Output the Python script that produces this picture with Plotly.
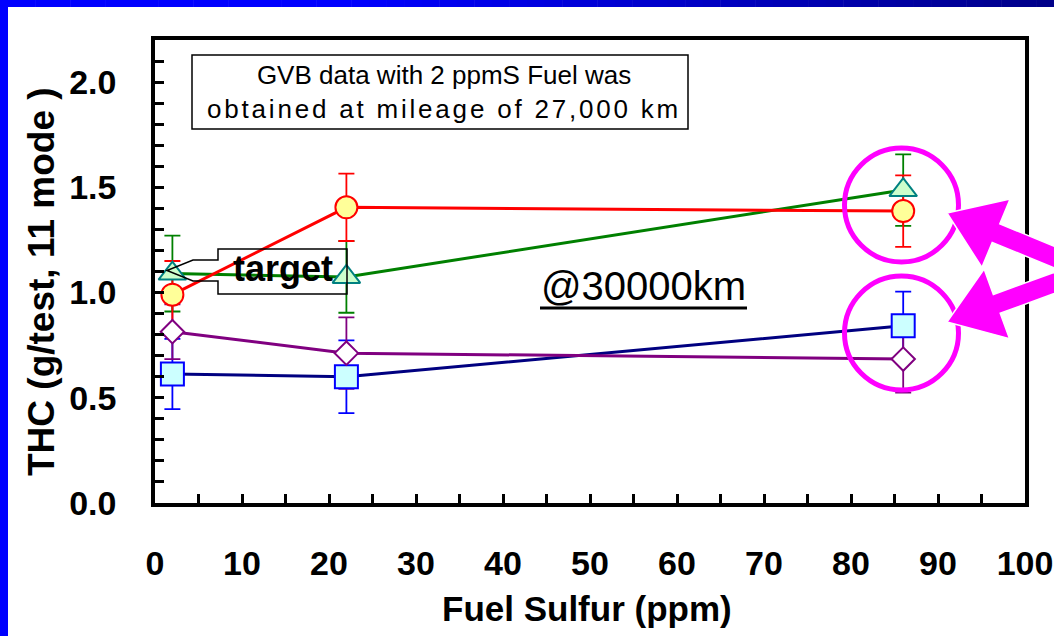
import math
import plotly.graph_objects as go

# ---------------- data ----------------
sulfur = [2, 22, 86]

red_vals = [0.99, 1.405, 1.387]
red_err = [0.16, 0.16, 0.17]
green_vals = [1.09, 1.074, 1.487]
green_err = [0.18, 0.17, 0.17]
purple_vals = [0.814, 0.712, 0.684]
purple_err = [0.13, 0.17, 0.16]
blue_vals = [0.613, 0.600, 0.842]
blue_err = [0.167, 0.173, 0.162]

x_ticks = [0, 10, 20, 30, 40, 50, 60, 70, 80, 90, 100]
y_ticks = [0.0, 0.5, 1.0, 1.5, 2.0]
y_tick_text = ["0.0", "0.5", "1.0", "1.5", "2.0"]

# ---------------- layout geometry (pixels) ----------------
W, H = 1054, 636
PL, PR, PT, PB = 155, 1025, 40, 503
FONT = "Liberation Sans, Arial, Helvetica, sans-serif"


def fx(px):
    return (px - PL) / (PR - PL)


def fy(py):
    return (PB - py) / (PB - PT)


series = [
    dict(name="blue", y=blue_vals, e=blue_err, line="#000080", err="#0000FF",
         symbol="square", size=23, fill="#CCFFFF", edge="#0000FF"),
    dict(name="purple", y=purple_vals, e=purple_err, line="#800080", err="#800080",
         symbol="diamond", size=18, fill="#FFFFFF", edge="#800080"),
    dict(name="green", y=green_vals, e=green_err, line="#008000", err="#008000",
         symbol="triangle-up", size=24, fill="#CCFFCC", edge="#008080"),
    dict(name="red", y=red_vals, e=red_err, line="#FF0000", err="#FF0000",
         symbol="circle", size=22, fill="#FFFF99", edge="#FF0000"),
]

fig = go.Figure()

# error bars (drawn first, under everything)
for s in series:
    fig.add_trace(go.Scatter(
        x=sulfur, y=s["y"], mode="markers",
        marker=dict(size=1, opacity=0),
        error_y=dict(type="data", array=s["e"], visible=True,
                     color=s["err"], thickness=1.8, width=8),
        showlegend=False, hoverinfo="skip"))

# connecting lines
for s in series:
    fig.add_trace(go.Scatter(
        x=sulfur, y=s["y"], mode="lines",
        line=dict(color=s["line"], width=3),
        showlegend=False, hoverinfo="skip"))

# markers
for s in series:
    fig.add_trace(go.Scatter(
        x=sulfur, y=s["y"], mode="markers", name=s["name"],
        marker=dict(symbol=s["symbol"], size=s["size"], color=s["fill"],
                    line=dict(color=s["edge"], width=2)),
        showlegend=False))

shapes = []

# top gradient band and left band (slide frame)
N = 60
for i in range(N):
    x0 = W * i / N
    x1 = W * (i + 1) / N
    xm = (x0 + x1) / 2
    t = max(0.0, (xm - 350) / (W - 350))
    b = int(round(255 - t * (255 - 136)))
    shapes.append(dict(type="rect", xref="paper", yref="paper",
                       x0=fx(x0), x1=fx(x1 + 0.5), y0=fy(7), y1=fy(0),
                       fillcolor=f"rgb(0,0,{b})", line=dict(width=0), layer="above"))
shapes.append(dict(type="rect", xref="paper", yref="paper",
                   x0=fx(0), x1=fx(8), y0=fy(H), y1=fy(0),
                   fillcolor="#0000FF", line=dict(width=0), layer="above"))

# info box
shapes.append(dict(type="rect", xref="paper", yref="paper",
                   x0=fx(192), x1=fx(688), y0=fy(129), y1=fy(55),
                   line=dict(color="black", width=1.5), fillcolor="rgba(0,0,0,0)"))

# target callout outline
callout = [(347, 249), (218, 249), (218, 260), (193, 260), (167, 270.5),
           (193, 281), (218, 281), (218, 294), (347, 294)]
path = "M " + " L ".join(f"{fx(x):.5f},{fy(y):.5f}" for x, y in callout) + " Z"
shapes.append(dict(type="path", xref="paper", yref="paper", path=path,
                   line=dict(color="black", width=1.5), fillcolor="rgba(0,0,0,0)"))

# underline for @30000km
shapes.append(dict(type="line", xref="paper", yref="paper",
                   x0=fx(540), x1=fx(747), y0=fy(308), y1=fy(308),
                   line=dict(color="black", width=3)))

# magenta highlight circles
for cy in (205, 333):
    cx, r = 901.5, 57
    shapes.append(dict(type="circle", xref="paper", yref="paper",
                       x0=fx(cx - r), x1=fx(cx + r), y0=fy(cy + r), y1=fy(cy - r),
                       line=dict(color="#FF00FF", width=5), layer="above"))


def arrow(tip, direction, head_len, head_half, shaft_half, length):
    n = math.hypot(*direction)
    d = (direction[0] / n, direction[1] / n)
    nn = (-d[1], d[0])
    b = (tip[0] + head_len * d[0], tip[1] + head_len * d[1])
    e = (tip[0] + length * d[0], tip[1] + length * d[1])
    pts = [tip,
           (b[0] + head_half * nn[0], b[1] + head_half * nn[1]),
           (b[0] + shaft_half * nn[0], b[1] + shaft_half * nn[1]),
           (e[0] + shaft_half * nn[0], e[1] + shaft_half * nn[1]),
           (e[0] - shaft_half * nn[0], e[1] - shaft_half * nn[1]),
           (b[0] - shaft_half * nn[0], b[1] - shaft_half * nn[1]),
           (b[0] - head_half * nn[0], b[1] - head_half * nn[1])]
    return "M " + " L ".join(f"{fx(x):.5f},{fy(y):.5f}" for x, y in pts) + " Z"


for tip, dr in (((947, 213), (107, 44)), ((947, 322), (107, -39))):
    shapes.append(dict(type="path", xref="paper", yref="paper",
                       path=arrow(tip, dr, 53, 37, 10, 260),
                       fillcolor="#FF00FF", line=dict(color="white", width=1.5),
                       layer="above"))

annotations = [
    dict(text="GVB data with 2 ppmS Fuel was<br>"
              "<span style=\"letter-spacing:2.8px\">obtained at mileage of 27,000 km</span>",
         x=fx(444), y=fy(92), xref="paper", yref="paper", showarrow=False,
         xanchor="center", yanchor="middle", align="center",
         font=dict(family=FONT, size=26, color="black")),
    dict(text="target", x=fx(283), y=fy(268), xref="paper", yref="paper",
         showarrow=False, xanchor="center", yanchor="middle",
         font=dict(family=FONT, size=36, color="black", weight="bold")),
    dict(text="@30000km", x=fx(643), y=fy(286), xref="paper", yref="paper",
         showarrow=False, xanchor="center", yanchor="middle",
         font=dict(family=FONT, size=40, color="black")),
    dict(text="Fuel Sulfur (ppm)", x=fx(587), y=fy(608), xref="paper", yref="paper",
         showarrow=False, xanchor="center", yanchor="middle",
         font=dict(family=FONT, size=35, color="black", weight="bold")),
    dict(text="THC (g/test, 11 mode )", x=fx(41), y=fy(282), xref="paper", yref="paper",
         showarrow=False, xanchor="center", yanchor="middle", textangle=-90,
         font=dict(family=FONT, size=37, color="black", weight="bold")),
]

fig.update_layout(
    width=W, height=H, autosize=False,
    margin=dict(l=PL, r=W - PR, t=PT, b=H - PB, pad=0, autoexpand=False),
    paper_bgcolor="white", plot_bgcolor="white",
    showlegend=False,
    shapes=shapes, annotations=annotations,
    xaxis=dict(range=[0, 100], tickvals=x_ticks, ticktext=[str(v) for v in x_ticks],
               automargin=False,
               ticks="inside", ticklen=9, tickwidth=3, tickcolor="black",
               minor=dict(dtick=5, ticks="inside", ticklen=9, tickwidth=3, tickcolor="black"),
               showline=True, linewidth=3.5, linecolor="black", mirror=True,
               showgrid=False, zeroline=False, ticklabelstandoff=27,
               tickfont=dict(family=FONT, size=34, color="black", weight="bold")),
    yaxis=dict(range=[0, 2.2], tickvals=y_ticks, ticktext=y_tick_text,
               automargin=False,
               ticks="inside", ticklen=9, tickwidth=3, tickcolor="black",
               minor=dict(dtick=0.1, ticks="inside", ticklen=9, tickwidth=3, tickcolor="black"),
               showline=True, linewidth=3.5, linecolor="black", mirror=True,
               showgrid=False, zeroline=False, ticklabelstandoff=28,
               tickfont=dict(family=FONT, size=34, color="black", weight="bold")),
)

fig.write_html("out.html",
               config={"displayModeBar": False},
               post_script="document.body.style.margin='0';"
                           "document.body.style.overflow='hidden';")
